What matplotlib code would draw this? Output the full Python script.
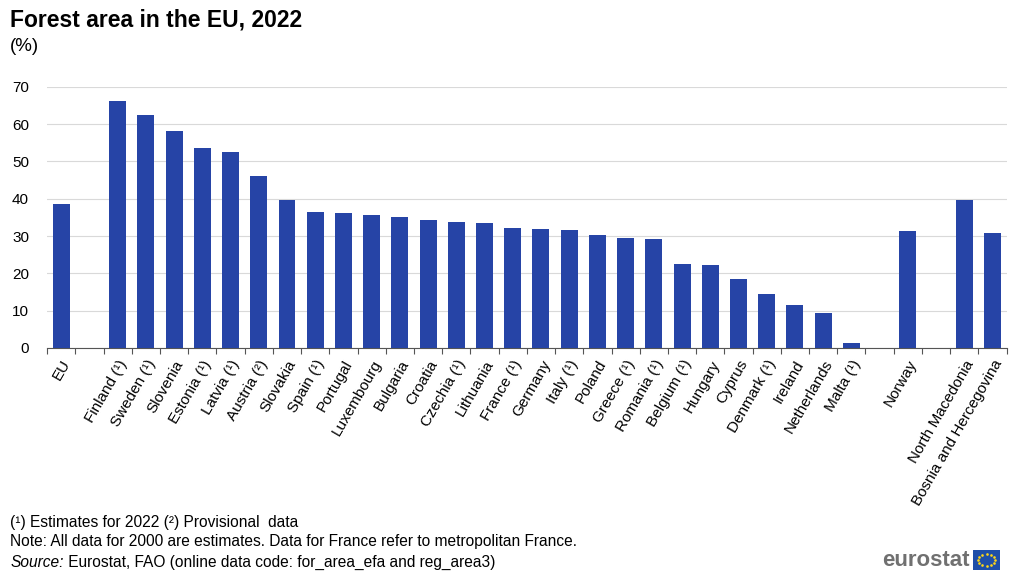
import numpy as np
import matplotlib.pyplot as plt
from matplotlib.patches import Rectangle

plt.rcParams['font.family'] = ['Liberation Sans', 'DejaVu Sans']

# data (% of land area covered by forest), '' = empty gap slot
countries = ['EU', '',
             'Finland (¹)', 'Sweden (¹)', 'Slovenia', 'Estonia (¹)', 'Latvia (¹)',
             'Austria (²)', 'Slovakia', 'Spain (¹)', 'Portugal', 'Luxembourg',
             'Bulgaria', 'Croatia', 'Czechia (¹)', 'Lithuania', 'France (¹)',
             'Germany', 'Italy (¹)', 'Poland', 'Greece (¹)', 'Romania (¹)',
             'Belgium (¹)', 'Hungary', 'Cyprus', 'Denmark (¹)', 'Ireland',
             'Netherlands', 'Malta (¹)', '',
             'Norway', '',
             'North Macedonia', 'Bosnia and Hercegovina']
forest_share = [38.7, np.nan,
                66.1, 62.4, 58.1, 53.7, 52.6,
                46.2, 39.6, 36.5, 36.1, 35.7,
                35.1, 34.3, 33.8, 33.6, 32.1,
                31.9, 31.7, 30.2, 29.4, 29.1,
                22.4, 22.2, 18.5, 14.5, 11.5,
                9.5, 1.3, np.nan,
                31.3, np.nan,
                39.6, 30.9]
y_ticks = [0, 10, 20, 30, 40, 50, 60, 70]

fig = plt.figure(figsize=(10.24, 5.79), dpi=100)
ax = fig.add_axes([0.046, 0.399, 0.937, 0.451])

x = np.arange(len(countries))
ax.bar(x, forest_share, width=0.6, color='#2644a6', zorder=3)

ax.set_xlim(-0.5, len(countries) - 0.5)
ax.set_ylim(0, 70)
ax.set_yticks(y_ticks)
ax.tick_params(axis='y', length=0, labelsize=11, pad=13)
ax.grid(axis='y', color='#d9d9d9', linewidth=0.8, zorder=0)

ax.set_xticks(x)
ax.set_xticklabels(countries, rotation=60, ha='right', rotation_mode='anchor', fontsize=11)
ax.tick_params(axis='x', which='major', length=0, pad=7)
ax.set_xticks(np.arange(-0.5, len(countries)), minor=True)
ax.tick_params(axis='x', which='minor', length=4, color='#555555', width=0.8)

for s in ['left', 'right', 'top']:
    ax.spines[s].set_visible(False)
ax.spines['bottom'].set_color('#555555')
ax.spines['bottom'].set_linewidth(0.8)

fig.text(0.010, 0.966, 'Forest area in the EU, 2022', fontsize=16.5, fontweight='bold', va='center')
fig.text(0.010, 0.920, '(%)', fontsize=13.5, va='center')

fig.text(0.010, 0.097, '(¹) Estimates for 2022 (²) Provisional  data', fontsize=11.2, va='center')
fig.text(0.010, 0.064, 'Note: All data for 2000 are estimates. Data for France refer to metropolitan France.',
         fontsize=11.2, va='center')
src = fig.text(0.010, 0.028, 'Source:', fontsize=11.2, va='center', style='italic')
ax.annotate(' Eurostat, FAO (online data code: for_area_efa and reg_area3)', xy=(1, 0), xycoords=src,
            va='bottom', ha='left', fontsize=11.2, annotation_clip=False)

# eurostat logo
fig.text(0.947, 0.032, 'eurostat', fontsize=16, fontweight='bold', color='#707070', ha='right', va='center')
flag = fig.add_axes([0.950, 0.016, 0.027, 0.034])
flag.add_patch(Rectangle((0, 0), 1, 1, color='#1f4ea8'))
ang = np.linspace(0, 2 * np.pi, 12, endpoint=False)
flag.scatter(0.5 + 0.3 * np.cos(ang), 0.5 + 0.3 * np.sin(ang), s=0.8, color='#ffd617')
flag.set_xlim(0, 1)
flag.set_ylim(0, 1)
flag.axis('off')

fig.savefig('out.png', dpi=100)
